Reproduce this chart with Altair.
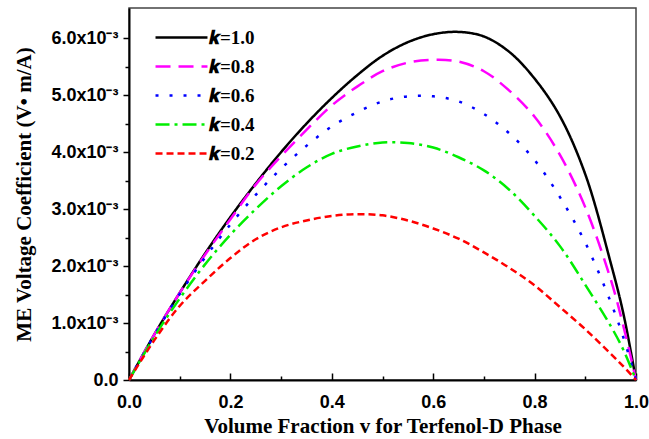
import altair as alt
import pandas as pd

v = [0, 0.05, 0.1, 0.15, 0.2, 0.25, 0.3, 0.35, 0.4, 0.45, 0.5, 0.55, 0.6,
     0.65, 0.7, 0.75, 0.8, 0.85, 0.9, 0.95, 0.975, 1.0]
k10 = [0, 0.8, 1.53, 2.22, 2.86, 3.45, 4.0, 4.5, 4.95, 5.35, 5.69, 5.93, 6.07,
       6.11, 6.03, 5.76, 5.29, 4.63, 3.61, 2.06, 1.17, 0]
k08 = [0, 0.8, 1.53, 2.2, 2.82, 3.43, 3.93, 4.39, 4.82, 5.15, 5.42, 5.57, 5.62,
       5.59, 5.42, 5.08, 4.62, 3.95, 3.03, 1.77, 0.95, 0]
k06 = [0, 0.79, 1.51, 2.15, 2.73, 3.25, 3.71, 4.11, 4.45, 4.7, 4.89, 4.98, 4.98,
       4.89, 4.67, 4.33, 3.86, 3.21, 2.41, 1.37, 0.75, 0]
k04 = [0, 0.76, 1.43, 2.03, 2.55, 3.0, 3.4, 3.73, 3.97, 4.1, 4.17, 4.16, 4.08,
       3.91, 3.68, 3.34, 2.88, 2.35, 1.67, 0.95, 0.53, 0]
k02 = [0, 0.7, 1.3, 1.74, 2.14, 2.47, 2.68, 2.8, 2.88, 2.91, 2.89, 2.8, 2.66,
       2.48, 2.24, 1.97, 1.66, 1.28, 0.89, 0.46, 0.24, 0]

labels = ["𝒌=1.0", "𝒌=0.8", "𝒌=0.6", "𝒌=0.4", "𝒌=0.2"]
series = [k10, k08, k06, k04, k02]
colors = ["#000000", "#ff00ff", "#0000ff", "#00ee00", "#ff0000"]
dashes = [[1, 0], [15, 8], [3, 11], [14, 5, 3, 5], [7, 4]]

rows = []
for lab, ys in zip(labels, series):
    for x, y in zip(v, ys):
        rows.append({"v": x, "me": y, "k": lab})
df = pd.DataFrame(rows)

x_ticks = [round(i * 0.1, 1) for i in range(11)]
y_ticks = [i * 0.5 for i in range(13)]

chart = alt.Chart(df).mark_line(strokeWidth=2.5, interpolate="catmull-rom").encode(
    x=alt.X("v:Q", scale=alt.Scale(domain=[0, 1], nice=False),
            axis=alt.Axis(values=x_ticks,
                          title="Volume Fraction v for Terfenol-D Phase",
                          labelExpr="round(datum.value*10) % 2 == 0 ? format(datum.value, '.1f') : ''",
                          tickSize={"expr": "round(datum.value*10) % 2 == 0 ? -7 : -4"},
                          labelPadding=20, titlePadding=1, labelFlush=False,
                          labelOverlap=False)),
    y=alt.Y("me:Q", scale=alt.Scale(domain=[0, 6.53], nice=False),
            axis=alt.Axis(values=y_ticks,
                          title="ME Voltage Coefficient (V• m/A)",
                          labelExpr="round(datum.value*2) % 2 == 0 ? (datum.value == 0 ? '0.0' : format(datum.value, '.1f') + 'x10⁻³') : ''",
                          tickSize={"expr": "round(datum.value*2) % 2 == 0 ? 6 : 4"},
                          labelPadding=5, titlePadding=16, labelOverlap=False)),
    color=alt.Color("k:N", scale=alt.Scale(domain=labels, range=colors),
                    legend=alt.Legend(title=None, orient="none", legendX=43,
                                      legendY=20, symbolType="M-5,0H5",
                                      symbolSize=108, symbolStrokeWidth=2.5,
                                      labelFont="Liberation Serif",
                                      labelFontWeight="bold", labelFontSize=19,
                                      labelOffset=18, rowPadding=9, padding=0,
                                      labelColor="#000")),
    strokeDash=alt.StrokeDash("k:N", scale=alt.Scale(domain=labels, range=dashes),
                              legend=None),
).properties(
    width=507, height=372,
    padding={"left": 129, "top": 8, "right": 13, "bottom": 59},
    autosize=alt.AutoSizeParams(type="none"),
).configure_view(
    stroke="#444", strokeWidth=1.5
).configure_axis(
    grid=False, domainColor="#000", domainWidth=2, tickColor="#000",
    tickWidth=1.5, labelFont="Liberation Sans", labelFontWeight="bold",
    labelFontSize=18, labelColor="#000", titleFont="Liberation Serif",
    titleFontWeight="bold", titleFontSize=21, titleColor="#000"
)

chart.save("out.html", embed_options={"renderer": "svg", "actions": False})
